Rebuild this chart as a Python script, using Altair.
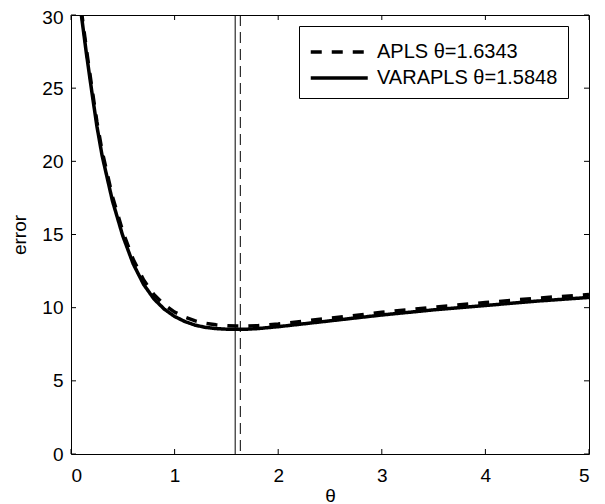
import altair as alt
import pandas as pd

# ---- data ----
theta = [0.1, 0.15, 0.2, 0.25, 0.3, 0.4, 0.5, 0.6, 0.7, 0.8, 0.9, 1.0, 1.1, 1.2,
         1.3, 1.4, 1.5, 1.6, 1.7, 1.8, 2.0, 2.5, 3.0, 3.5, 4.0, 4.5, 5.0]
varapls = [30.0, 27.3, 24.8, 22.4, 20.4, 17.3, 14.9, 13.0, 11.6, 10.6, 9.9, 9.4, 9.05, 8.8,
           8.65, 8.57, 8.53, 8.52, 8.53, 8.57, 8.7, 9.1, 9.5, 9.85, 10.15, 10.45, 10.7]
apls = [30.3, 27.6, 25.1, 22.7, 20.7, 17.6, 15.2, 13.3, 11.9, 10.9, 10.2, 9.7, 9.35, 9.1,
        8.93, 8.83, 8.77, 8.74, 8.74, 8.77, 8.88, 9.28, 9.68, 10.03, 10.35, 10.65, 10.9]
series_names = ["APLS \u03b8=1.6343", "VARAPLS \u03b8=1.5848"]
theta_opt_apls = [1.6343]
theta_opt_varapls = [1.5848]
x_ticks = [0, 1, 2, 3, 4, 5]
y_ticks = [0, 5, 10, 15, 20, 25, 30]

W, H = 518, 439
FONT = "Liberation Sans"

curves = pd.DataFrame({
    "theta": theta * 2,
    "error": apls + varapls,
    "series": [series_names[0]] * len(theta) + [series_names[1]] * len(theta),
})

x_scale = alt.Scale(domain=[0, 5], nice=False, zero=False)
y_scale = alt.Scale(domain=[0, 30], nice=False, zero=False)
x_axis = alt.Axis(values=x_ticks, ticks=False, tickSize=0, labelPadding=12, domain=False,
                  grid=False, labelFontSize=19, titleFontSize=19, titleFontWeight="normal",
                  titlePadding=1, labelColor="black", titleColor="black", labelFont=FONT,
                  titleFont=FONT)
y_axis = alt.Axis(values=y_ticks, ticks=False, tickSize=0, labelPadding=8, domain=False,
                  grid=False, labelFontSize=19, titleFontSize=19, titleFontWeight="normal",
                  titlePadding=12, labelColor="black", titleColor="black", labelFont=FONT,
                  titleFont=FONT, labelOffset=alt.ExprRef(expr="datum.value == 30 ? 2 : 0"))

def xenc(field):
    return alt.X(field, type="quantitative", scale=x_scale, axis=x_axis, title="\u03b8")

def yenc(field):
    return alt.Y(field, type="quantitative", scale=y_scale, axis=y_axis, title="error")

lines = alt.Chart(curves).mark_line(clip=True, strokeWidth=3.5, color="black").encode(
    x=xenc("theta"),
    y=yenc("error"),
    strokeDash=alt.StrokeDash(
        "series:N",
        scale=alt.Scale(domain=series_names, range=[[11, 10], [1, 0]]),
        legend=alt.Legend(title=None),
    ),
    detail="series:N",
)

rule_solid = alt.Chart(pd.DataFrame({"theta": theta_opt_varapls})).mark_rule(
    color="black", strokeWidth=1).encode(x=xenc("theta"))
rule_dash = alt.Chart(pd.DataFrame({"theta": theta_opt_apls})).mark_rule(
    color="black", strokeWidth=1, strokeDash=[11, 6]).encode(x=xenc("theta"))

xt = pd.DataFrame({"t": x_ticks})
yt = pd.DataFrame({"t": y_ticks})
tick_bottom = alt.Chart(xt).mark_rule(color="black", strokeWidth=1).encode(
    x=xenc("t"), y=alt.value(H), y2=alt.value(H - 5))
tick_top = alt.Chart(xt).mark_rule(color="black", strokeWidth=1).encode(
    x=xenc("t"), y=alt.value(0), y2=alt.value(5))
tick_left = alt.Chart(yt).mark_rule(color="black", strokeWidth=1).encode(
    y=yenc("t"), x=alt.value(0), x2=alt.value(5))
tick_right = alt.Chart(yt).mark_rule(color="black", strokeWidth=1).encode(
    y=yenc("t"), x=alt.value(W - 5), x2=alt.value(W))

chart = alt.layer(
    tick_bottom, tick_top, tick_left, tick_right, rule_solid, rule_dash, lines
).properties(
    width=W, height=H,
    autosize=alt.AutoSizeParams(type="none"),
    padding={"left": 63, "top": 7, "right": 8, "bottom": 48},
    background="white",
).configure_view(
    stroke="black", strokeWidth=1
).configure_legend(
    orient="none", legendX=228, legendY=11,
    strokeColor="black", fillColor="white", padding=10, cornerRadius=0,
    symbolType="M-1,0H3", symbolSize=812, symbolStrokeWidth=3.5,
    symbolStrokeColor="black", symbolFillColor="transparent",
    labelFontSize=20, labelFont=FONT, labelColor="black",
    rowPadding=-8, labelOffset=36, labelLimit=400,
)

chart.save("out.html", embed_options={"renderer": "svg", "actions": False})
